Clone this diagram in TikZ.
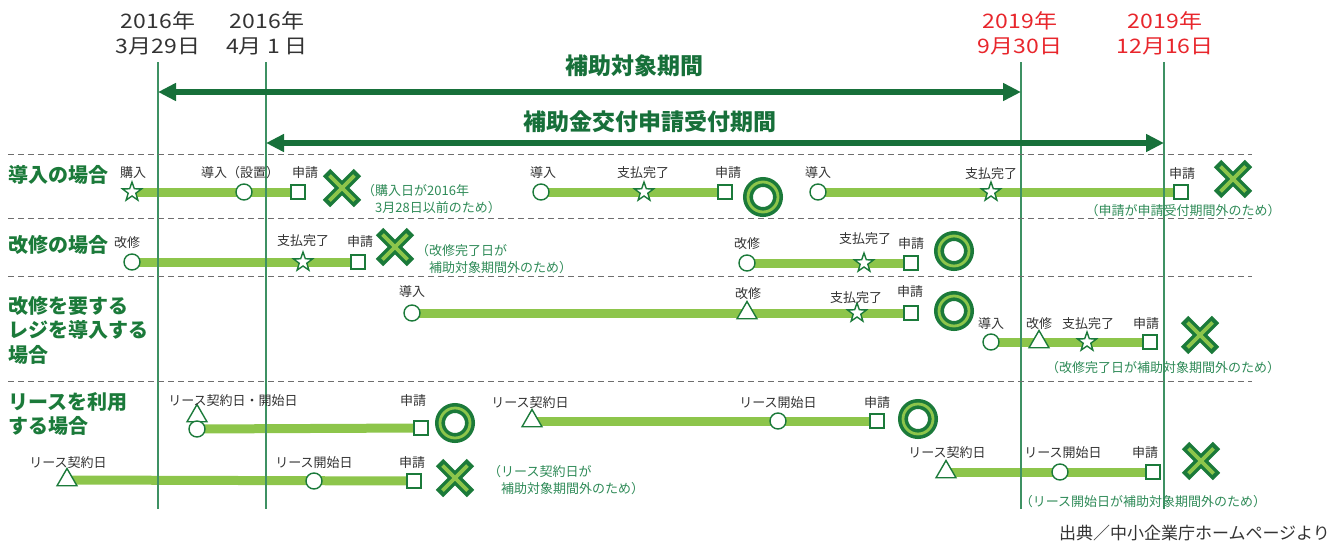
\documentclass[tikz,border=0pt]{standalone}
\usepackage{fontspec}
\setmainfont{Noto Sans CJK JP}
\usetikzlibrary{shapes.geometric,arrows.meta}
\pgfdeclarelayer{bg}
\pgfsetlayers{bg,main}
\definecolor{dkg}{HTML}{1B7A3A}
\definecolor{arrg}{HTML}{17703A}
\definecolor{ltg}{HTML}{8DC54B}
\definecolor{vln}{HTML}{3E9163}
\definecolor{noteg}{HTML}{2E8A57}
\definecolor{redd}{HTML}{E8262C}
\definecolor{txt}{HTML}{333333}
\definecolor{dashc}{HTML}{6E6E6E}
\begin{document}
\begin{tikzpicture}[x=1pt,y=-1pt,
  lbl/.style={font=\fontsize{13}{15}\selectfont, text=txt, inner sep=0},
  note/.style={font=\fontsize{13}{17}\selectfont, text=noteg, inner sep=0, align=left},
  hdr/.style={font=\bfseries\fontsize{20}{24.5}\selectfont, text=dkg, inner sep=0, align=left, anchor=west},
  datelbl/.style={font=\fontsize{20}{25}\selectfont, text=txt, align=center, inner sep=0, xscale=1.15, transform shape},
  arrlbl/.style={font=\bfseries\fontsize{23}{26}\selectfont, text=arrg, inner sep=0},
  mk/.style={draw=dkg, line width=1.4pt, fill=white, inner sep=0},
  mcirc/.style={mk, circle, minimum size=16pt},
  msq/.style={mk, rectangle, minimum size=14pt},
  mstar/.style={mk, star, star points=5, star point ratio=2.5, minimum size=20pt},
  mtri/.style={mk, regular polygon, regular polygon sides=3, minimum size=23pt},
  bar/.style={ltg, line width=9pt},
  vline/.style={vln, line width=1.4pt},
  sep/.style={dashc, line width=1pt, dash pattern=on 6pt off 4pt},
  bigarrow/.style={arrg, line width=5.5pt, {Triangle[length=18pt,width=17pt]}-{Triangle[length=18pt,width=17pt]}},
  okmark/.style={circle, draw=dkg, line width=3.6pt, double=ltg, double distance=2.8pt, minimum size=30pt, inner sep=0},
  xmark/.style={rectangle, minimum size=42pt, inner sep=0, path picture={
    \draw[dkg, line width=10.5pt]
      ([shift={(-15.5pt,-15.5pt)}]path picture bounding box.center) -- ([shift={(15.5pt,15.5pt)}]path picture bounding box.center)
      ([shift={(-15.5pt,15.5pt)}]path picture bounding box.center) -- ([shift={(15.5pt,-15.5pt)}]path picture bounding box.center);
    \draw[ltg, line width=3.8pt]
      ([shift={(-12.5pt,-12.5pt)}]path picture bounding box.center) -- ([shift={(12.5pt,12.5pt)}]path picture bounding box.center)
      ([shift={(-12.5pt,12.5pt)}]path picture bounding box.center) -- ([shift={(12.5pt,-12.5pt)}]path picture bounding box.center);
  }}
]
\useasboundingbox (0,0) rectangle (1342,544);

% vertical date lines
\coordinate (v1t) at (158,62); \coordinate (v1b) at (158,509);
\coordinate (v2t) at (266,62); \coordinate (v2b) at (266,509);
\coordinate (v3t) at (1021,62); \coordinate (v3b) at (1021,509);
\coordinate (v4t) at (1164,62); \coordinate (v4b) at (1164,509);

% dates
\node[datelbl] (d1) at (158,33) {2016年\\3月29日};
\node[datelbl] (d2) at (267,33) {2016年\\4月 1 日};
\node[datelbl, text=redd] (d3) at (1020,33) {2019年\\9月30日};
\node[datelbl, text=redd] (d4) at (1165,33) {2019年\\12月16日};

% dashed separators
\coordinate (s1l) at (8,154); \coordinate (s1r) at (1252,154);
\coordinate (s2l) at (8,218); \coordinate (s2r) at (1252,218);
\coordinate (s3l) at (8,276); \coordinate (s3r) at (1252,276);
\coordinate (s4l) at (8,381); \coordinate (s4r) at (1252,381);
\draw[sep] (s1l) -- (s1r);
\draw[sep] (s2l) -- (s2r);
\draw[sep] (s3l) -- (s3r);
\draw[sep] (s4l) -- (s4r);

% period arrows
\coordinate (a1l) at (158,92); \coordinate (a1r) at (1021,92);
\coordinate (a2l) at (266,143); \coordinate (a2r) at (1164,143);
\draw[bigarrow] (a1l) -- (a1r);
\draw[bigarrow] (a2l) -- (a2r);
\node[arrlbl] (t1) at (634,66) {補助対象期間};
\node[arrlbl] (t2) at (650,122) {補助金交付申請受付期間};

% row headers
\node[hdr] (h1) at (8,175) {導入の場合};
\node[hdr] (h2) at (8,245) {改修の場合};
\node[hdr] (h3) at (8,330) {改修を要する\\レジを導入する\\場合};
\node[hdr] (h4) at (8,414) {リースを利用\\する場合};

% ---------- row 1 ----------
\node[mstar] (p1) at (132,192) {};
\node[mcirc] (p2) at (244,192) {};
\node[msq] (p3) at (298,192) {};
\node[lbl] (lp1) at (133,173) {購入};
\node[lbl] (lp2) at (240,173) {導入（設置）};
\node[lbl] (lp3) at (305,173) {申請};
\node[xmark] (x1) at (342,188) {};
\node[note, anchor=west] (n1) at (362,199) {（購入日が2016年\\\hspace*{1em}3月28日以前のため）};

\node[mcirc] (q1) at (541,192) {};
\node[mstar] (q2) at (644,192) {};
\node[msq] (q3) at (725,192) {};
\node[lbl] (lq1) at (543,173) {導入};
\node[lbl] (lq2) at (643,173) {支払完了};
\node[lbl] (lq3) at (728,173) {申請};
\node[okmark] (o1) at (763,197) {};

\node[mcirc] (r1) at (818,192) {};
\node[mstar] (r2) at (991,192) {};
\node[msq] (r3) at (1181,192) {};
\node[lbl] (lr1) at (818,173) {導入};
\node[lbl] (lr2) at (991,174) {支払完了};
\node[lbl] (lr3) at (1182,174) {申請};
\node[xmark] (x2) at (1233,179) {};
\node[note] (n2) at (1183,211) {（申請が申請受付期間外のため）};

% ---------- row 2 ----------
\node[mcirc] (b1) at (132,262) {};
\node[mstar] (b2) at (303,262) {};
\node[msq] (b3) at (358,262) {};
\node[lbl] (lb1) at (127,243) {改修};
\node[lbl] (lb2) at (303,241) {支払完了};
\node[lbl] (lb3) at (360,242) {申請};
\node[xmark] (x3) at (395,247) {};
\node[note, anchor=west] (n3) at (416,259) {（改修完了日が\\\hspace*{1em}補助対象期間外のため）};

\node[mcirc] (c1) at (747,263) {};
\node[mstar] (c2) at (864,263) {};
\node[msq] (c3) at (911,263) {};
\node[lbl] (lc1) at (747,244) {改修};
\node[lbl] (lc2) at (865,239) {支払完了};
\node[lbl] (lc3) at (911,244) {申請};
\node[okmark] (o2) at (954,251) {};

% ---------- row 3 ----------
\node[mcirc] (e1) at (412,313) {};
\node[mtri] (e2) at (747,313) {};
\node[mstar] (e3) at (857,313) {};
\node[msq] (e4) at (911,313) {};
\node[lbl] (le1) at (412,292) {導入};
\node[lbl] (le2) at (748,294) {改修};
\node[lbl] (le3) at (856,298) {支払完了};
\node[lbl] (le4) at (910,292) {申請};
\node[okmark] (o3) at (954,311) {};

\node[mcirc] (f1) at (991,342) {};
\node[mtri] (f2) at (1039,342) {};
\node[mstar] (f3) at (1087,342) {};
\node[msq] (f4) at (1150,342) {};
\node[lbl] (lf1) at (991,324) {導入};
\node[lbl] (lf2) at (1039,324) {改修};
\node[lbl] (lf3) at (1088,324) {支払完了};
\node[lbl] (lf4) at (1146,324) {申請};
\node[xmark] (x4) at (1200,335) {};
\node[note] (n4) at (1163,368) {（改修完了日が補助対象期間外のため）};

% ---------- row 4 ----------
\node[mtri] (g0) at (197,416) {};
\node[mcirc] (g1) at (197,429) {};
\node[msq] (g2) at (421,428) {};
\node[lbl] (lg1) at (233,401) {リース契約日・開始日};
\node[lbl] (lg2) at (413,401) {申請};
\node[okmark] (o4) at (455,423) {};

\node[mtri] (k1) at (67,480) {};
\node[mcirc] (k2) at (314,481) {};
\node[msq] (k3) at (414,481) {};
\node[lbl] (lk1) at (68,463) {リース契約日};
\node[lbl] (lk2) at (314,463) {リース開始日};
\node[lbl] (lk3) at (412,463) {申請};
\node[xmark] (x5) at (455,478) {};
\node[note, anchor=west] (n5) at (488,480) {（リース契約日が\\\hspace*{1em}補助対象期間外のため）};

\node[mtri] (m1) at (532,421) {};
\node[mcirc] (m2) at (778,421) {};
\node[msq] (m3) at (877,421) {};
\node[lbl] (lm1) at (530,403) {リース契約日};
\node[lbl] (lm2) at (778,403) {リース開始日};
\node[lbl] (lm3) at (877,403) {申請};
\node[okmark] (o5) at (918,419) {};

\node[mtri] (w1) at (946,472) {};
\node[mcirc] (w2) at (1060,472) {};
\node[msq] (w3) at (1153,472) {};
\node[lbl] (lw1) at (947,453) {リース契約日};
\node[lbl] (lw2) at (1063,453) {リース開始日};
\node[lbl] (lw3) at (1145,453) {申請};
\node[xmark] (x6) at (1201,461) {};
\node[note] (n6) at (1143,502) {（リース開始日が補助対象期間外のため）};

% footer
\node[font=\fontsize{17}{20}\selectfont, text=txt, inner sep=0, anchor=east] (src) at (1330,533) {出典／中小企業庁ホームページより};

% bars (behind markers) and vertical lines
\begin{pgfonlayer}{bg}
\draw[bar] (p1.center) -- (p3.center);
\draw[bar] (q1.center) -- (q3.center);
\draw[bar] (r1.center) -- (r3.center);
\draw[bar] (b1.center) -- (b3.center);
\draw[bar] (c1.center) -- (c3.center);
\draw[bar] (e1.center) -- (e4.center);
\draw[bar] (f1.center) -- (f4.center);
\draw[bar] (g1.center) -- (g2.center);
\draw[bar] (k1.center) -- (k3.center);
\draw[bar] (m1.center) -- (m3.center);
\draw[bar] (w1.center) -- (w3.center);
\draw[vline] (v1t) -- (v1b);
\draw[vline] (v2t) -- (v2b);
\draw[vline] (v3t) -- (v3b);
\draw[vline] (v4t) -- (v4b);
\end{pgfonlayer}
\end{tikzpicture}
\end{document}
